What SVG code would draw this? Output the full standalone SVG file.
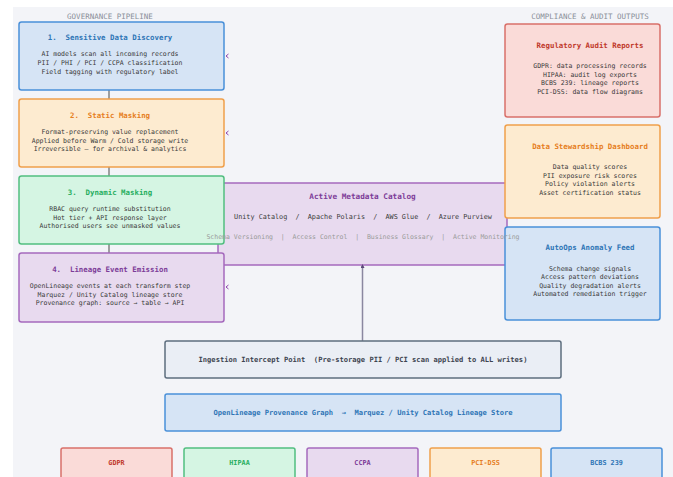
<svg xmlns="http://www.w3.org/2000/svg" width="673" height="477" viewBox="0 0 673 477" xml:space="preserve">
<defs>
<marker id="ah" markerWidth="4" markerHeight="4" refX="2" refY="2" orient="auto" markerUnits="userSpaceOnUse"><path d="M0,0 L4,2 L0,4 Z" fill="#5b4a78"/></marker>
<style>
text{font-family:"DejaVu Sans Mono","Liberation Mono",monospace;text-anchor:middle;dominant-baseline:central;white-space:pre}
.hdr{font-size:7.5px;fill:#8a8f98}
.t{font-size:7.4px;font-weight:bold}
.b{font-size:6.5px;fill:#3a3a3a}
.blue{fill:#d6e4f5;stroke:#4a90d9;stroke-width:1.5}
.orange{fill:#fdebd0;stroke:#f0a04b;stroke-width:1.5}
.green{fill:#d5f5e3;stroke:#52be80;stroke-width:1.5}
.purple{fill:#e8daef;stroke:#a569bd;stroke-width:1.5}
.red{fill:#fadbd8;stroke:#d9706a;stroke-width:1.5}
.grey{fill:#eaeef5;stroke:#5d6d7e;stroke-width:1.5}
.cb{fill:#2e75b6}.co{fill:#e67e22}.cg{fill:#27ae60}.cp{fill:#7d3c98}.cr{fill:#c0392b}
.ln{stroke:#666;stroke-width:1.2;fill:none}
.chev{stroke:#8e44ad;stroke-width:1;fill:none}
</style>
</defs>
<rect x="0" y="0" width="673" height="477" fill="#ffffff"/>
<rect x="13" y="7" width="660" height="470" fill="#f3f4f8"/>
<text class="hdr" x="110" y="16">GOVERNANCE PIPELINE</text>
<text class="hdr" x="590" y="16">COMPLIANCE &amp; AUDIT OUTPUTS</text>

<g id="catalog">
<rect class="purple" x="218" y="183" width="289" height="82" rx="2"/>
<text class="t cp" x="362.5" y="196" style="font-size:7.7px">Active Metadata Catalog</text>
<text class="b" x="363" y="217" style="font-size:6.8px">Unity Catalog  /  Apache Polaris  /  AWS Glue  /  Azure Purview</text>
</g>

<g id="connectors">
<line class="ln" x1="109" y1="90" x2="109" y2="99"/>
<line class="ln" x1="109" y1="167" x2="109" y2="176"/>
<line class="ln" x1="109" y1="244" x2="109" y2="253"/>
<line x1="362.5" y1="341" x2="362.5" y2="266" stroke="#8a87a0" stroke-width="1.5" marker-end="url(#ah)"/>
<path class="chev" d="M228.5,54 L226,56 L228.5,58"/>
<path class="chev" d="M228.5,131 L226,133 L228.5,135"/>
<path class="chev" d="M228.5,285 L226,287 L228.5,289"/>
</g>

<g id="discovery">
<rect class="blue" x="19" y="22" width="205" height="68" rx="2.5"/>
<text class="t cb" x="110" y="37">1.  Sensitive Data Discovery</text>
<text class="b" x="110" y="54">AI models scan all incoming records</text>
<text class="b" x="110" y="63">PII / PHI / PCI / CCPA classification</text>
<text class="b" x="110" y="72">Field tagging with regulatory label</text>
</g>
<g id="static">
<rect class="orange" x="19" y="99" width="205" height="68" rx="2.5"/>
<text class="t co" x="110" y="115">2.  Static Masking</text>
<text class="b" x="110" y="132">Format-preserving value replacement</text>
<text class="b" x="110" y="140.5">Applied before Warm / Cold storage write</text>
<text class="b" x="110" y="149">Irreversible — for archival &amp; analytics</text>
</g>
<g id="dynamic">
<rect class="green" x="19" y="176" width="205" height="68" rx="2.5"/>
<text class="t cg" x="110" y="192">3.  Dynamic Masking</text>
<text class="b" x="110" y="209">RBAC query runtime substitution</text>
<text class="b" x="110" y="217.5">Hot tier + API response layer</text>
<text class="b" x="110" y="226">Authorised users see unmasked values</text>
</g>
<g id="lineage">
<rect class="purple" x="19" y="253" width="205" height="69" rx="2.5"/>
<text class="t cp" x="110" y="269">4.  Lineage Event Emission</text>
<text class="b" x="110" y="286">OpenLineage events at each transform step</text>
<text class="b" x="110" y="294.5">Marquez / Unity Catalog lineage store</text>
<text class="b" x="110" y="303">Provenance graph: source → table → API</text>
</g>

<g id="audit">
<rect class="red" x="505" y="24" width="155" height="93" rx="2.5"/>
<text class="t cr" x="590" y="45">Regulatory Audit Reports</text>
<text class="b" x="590" y="66">GDPR: data processing records</text>
<text class="b" x="590" y="74.5">HIPAA: audit log exports</text>
<text class="b" x="590" y="83">BCBS 239: lineage reports</text>
<text class="b" x="590" y="91.5">PCI-DSS: data flow diagrams</text>
</g>
<g id="stewardship">
<rect class="orange" x="505" y="125" width="155" height="93" rx="2.5"/>
<text class="t co" x="590" y="146">Data Stewardship Dashboard</text>
<text class="b" x="590" y="167">Data quality scores</text>
<text class="b" x="590" y="175.5">PII exposure risk scores</text>
<text class="b" x="590" y="184">Policy violation alerts</text>
<text class="b" x="590" y="192.5">Asset certification status</text>
</g>
<g id="autoops">
<rect class="blue" x="505" y="227" width="155" height="93" rx="2.5"/>
<text class="t cb" x="590" y="247">AutoOps Anomaly Feed</text>
<text class="b" x="590" y="268.5">Schema change signals</text>
<text class="b" x="590" y="277">Access pattern deviations</text>
<text class="b" x="590" y="285.5">Quality degradation alerts</text>
<text class="b" x="590" y="294">Automated remediation trigger</text>
</g>

<text class="b" x="363" y="237" style="fill:#9a9a9a">Schema Versioning  |  Access Control  |  Business Glossary  |  Active Monitoring</text>

<g id="ingestion">
<rect class="grey" x="165" y="341" width="396" height="37" rx="2"/>
<text class="t" x="363" y="359.5" style="font-size:7.1px;fill:#3d4450">Ingestion Intercept Point  (Pre-storage PII / PCI scan applied to ALL writes)</text>
</g>
<g id="openlineage">
<rect class="blue" x="165" y="394" width="396" height="37" rx="2"/>
<text class="t cb" x="363" y="412.5" style="font-size:7.1px">OpenLineage Provenance Graph  →  Marquez / Unity Catalog Lineage Store</text>
</g>

<g id="gdpr"><rect class="red" x="61" y="448" width="111" height="40" rx="2"/><text class="t cr" x="116.5" y="463" style="font-size:6.8px">GDPR</text></g>
<g id="hipaa"><rect class="green" x="184" y="448" width="111" height="40" rx="2"/><text class="t cg" x="239.5" y="463" style="font-size:6.8px">HIPAA</text></g>
<g id="ccpa"><rect class="purple" x="307" y="448" width="111" height="40" rx="2"/><text class="t cp" x="362.5" y="463" style="font-size:6.8px">CCPA</text></g>
<g id="pcidss"><rect class="orange" x="430" y="448" width="111" height="40" rx="2"/><text class="t co" x="485.5" y="463" style="font-size:6.8px">PCI-DSS</text></g>
<g id="bcbs"><rect class="blue" x="551" y="448" width="111" height="40" rx="2"/><text class="t cb" x="606.5" y="463" style="font-size:6.8px">BCBS 239</text></g>
</svg>
